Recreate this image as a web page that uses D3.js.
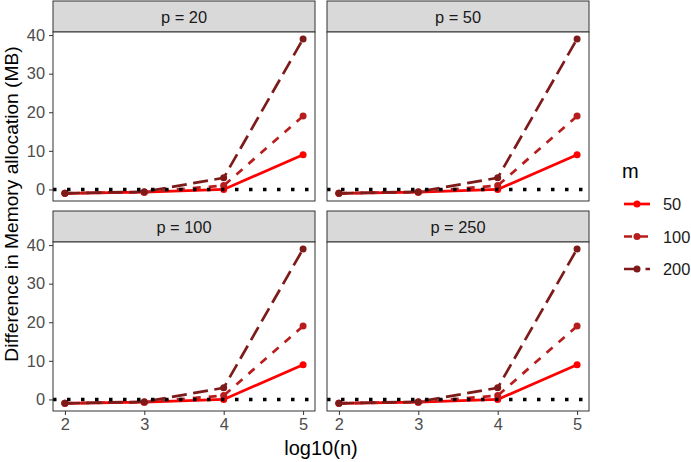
<!DOCTYPE html>
<html>
<head>
<meta charset="utf-8">
<script src="https://cdn.jsdelivr.net/npm/d3@7"></script>
<style>
  body { margin: 0; background: #fff; }
  svg { font-family: "Liberation Sans", Arial, sans-serif; }
</style>
</head>
<body>
<svg width="691" height="462"></svg>
<script>
  // data
  var panels = ["p = 20", "p = 50", "p = 100", "p = 250"];
  var logN = [2, 3, 4, 5];
  var mLevels = ["50", "100", "200"];
  // difference in memory (MB) per panel, one row per m level
  var diffP20  = [[-1, -0.7, 0, 9], [-1, -0.7, 1, 19], [-1, -0.6, 3, 39]];
  var diffP50  = [[-1, -0.7, 0, 9], [-1, -0.7, 1, 19], [-1, -0.6, 3, 39]];
  var diffP100 = [[-1, -0.7, 0, 9], [-1, -0.7, 1, 19], [-1, -0.6, 3, 39]];
  var diffP250 = [[-1, -0.7, 0, 9], [-1, -0.7, 1, 19], [-1, -0.6, 3, 39]];
  var yTicks = [0, 10, 20, 30, 40];

  var panelData = [diffP20, diffP50, diffP100, diffP250];

  // style
  var colors = ["#ff0000", "#b81d1d", "#7d1a1a"];
  var dashes = [null, "8,8", "15,6.5"];
  var lineW = 2.7;
  var tickFont = 16.4, titleFont = 20;

  var svg = d3.select("svg");

  var panelW = 262, plotH = 169, stripH = 31;
  var panelX = [53, 327], panelY = [1, 211];

  var x = d3.scaleLinear().domain([2 - 0.15, 5 + 0.15]).range([0, panelW]);
  var y = d3.scaleLinear().domain([-3, 40.8]).range([plotH, 0]);

  var line = d3.line()
    .x(function(d, i){ return x(logN[i]); })
    .y(function(d){ return y(d); });

  panels.forEach(function(name, k){
    var col = k % 2, row = Math.floor(k / 2);
    var g = svg.append("g")
      .attr("transform", "translate(" + panelX[col] + "," + panelY[row] + ")");

    // strip
    g.append("rect")
      .attr("x", 0).attr("y", 0)
      .attr("width", panelW).attr("height", stripH)
      .attr("fill", "#d9d9d9").attr("stroke", "#333").attr("stroke-width", 1);
    g.append("text")
      .attr("x", panelW / 2).attr("y", stripH / 2 + 6)
      .attr("text-anchor", "middle")
      .attr("font-size", tickFont).attr("fill", "#1a1a1a")
      .text(name);

    var p = g.append("g").attr("transform", "translate(0," + stripH + ")");

    p.append("rect")
      .attr("width", panelW).attr("height", plotH)
      .attr("fill", "#fff");

    var data = panelData[k];

    // lines
    data.forEach(function(vals, i){
      p.append("path")
        .datum(vals)
        .attr("d", line)
        .attr("fill", "none")
        .attr("stroke", colors[i])
        .attr("stroke-width", lineW)
        .attr("stroke-dasharray", dashes[i]);
    });

    // points
    data.forEach(function(vals, i){
      p.selectAll(null).data(vals).enter().append("circle")
        .attr("cx", function(d, j){ return x(logN[j]); })
        .attr("cy", function(d){ return y(d); })
        .attr("r", 3.5)
        .attr("fill", colors[i]);
    });

    // reference line at 0
    p.append("line")
      .attr("x1", 0).attr("x2", panelW)
      .attr("y1", y(0)).attr("y2", y(0))
      .attr("stroke", "#000")
      .attr("stroke-width", 3.5)
      .attr("stroke-dasharray", "3.5,10.5");

    // border
    p.append("rect")
      .attr("width", panelW).attr("height", plotH)
      .attr("fill", "none").attr("stroke", "#333").attr("stroke-width", 1);

    // y axis on left column
    if (col === 0) {
      var ya = p.append("g").call(d3.axisLeft(y).tickValues(yTicks).tickSize(4).tickPadding(4));
      ya.select(".domain").remove();
      ya.selectAll("line").attr("stroke", "#333");
      ya.selectAll("text").attr("font-size", tickFont).attr("fill", "#4d4d4d")
        .attr("font-family", "Liberation Sans, Arial, sans-serif");
    }
    // x axis on bottom row
    if (row === 1) {
      var xa = p.append("g").attr("transform", "translate(0," + plotH + ")")
        .call(d3.axisBottom(x).tickValues(logN).tickFormat(d3.format("d")).tickSize(4).tickPadding(3));
      xa.select(".domain").remove();
      xa.selectAll("line").attr("stroke", "#333");
      xa.selectAll("text").attr("font-size", tickFont).attr("fill", "#4d4d4d")
        .attr("font-family", "Liberation Sans, Arial, sans-serif");
    }
  });

  // axis titles
  svg.append("text")
    .attr("x", (panelX[0] + panelX[1] + panelW) / 2).attr("y", 455)
    .attr("text-anchor", "middle")
    .attr("font-size", titleFont).attr("fill", "#000")
    .text("log10(n)");
  svg.append("text")
    .attr("transform", "translate(18," + 204 + ") rotate(-90)")
    .attr("text-anchor", "middle")
    .attr("font-size", 19.2).attr("fill", "#000")
    .text("Difference in Memory allocation (MB)");

  // legend
  var leg = svg.append("g").attr("transform", "translate(622,0)");
  leg.append("text")
    .attr("x", 0).attr("y", 178)
    .attr("font-size", titleFont).attr("fill", "#000")
    .text("m");
  var legY = d3.scalePoint().domain(mLevels).range([204, 269]);
  mLevels.forEach(function(m, i){
    var cy = legY(m);
    leg.append("line")
      .attr("x1", 2).attr("x2", 28)
      .attr("y1", cy).attr("y2", cy)
      .attr("stroke", colors[i]).attr("stroke-width", lineW)
      .attr("stroke-dasharray", dashes[i]);
    leg.append("circle")
      .attr("cx", 15).attr("cy", cy).attr("r", 3.5)
      .attr("fill", colors[i]);
    leg.append("text")
      .attr("x", 41).attr("y", cy + 6)
      .attr("font-size", tickFont).attr("fill", "#1a1a1a")
      .text(m);
  });
</script>
</body>
</html>
